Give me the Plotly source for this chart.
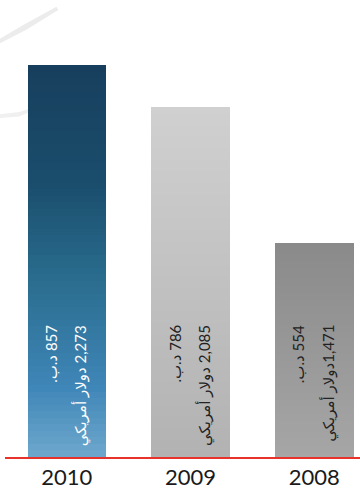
import plotly.graph_objects as go

years = ["2010", "2009", "2008"]
usd_values = [2273, 2085, 1471]
bd_values = [857, 786, 554]
bd_labels = ["857 د.ب.", "786 د.ب.", "554 د.ب."]
usd_labels = ["2,273 دولار أمريكي", "2,085 دولار أمريكي", "1,471دولار أمريكي"]

# gradient stops (top -> bottom) per bar
grad_stops = [
    [(0.0, (23, 63, 93)), (0.3, (26, 77, 108)), (0.55, (42, 109, 143)), (0.82, (63, 134, 184)), (1.0, (110, 168, 205))],
    [(0.0, (208, 208, 208)), (1.0, (178, 178, 178))],
    [(0.0, (138, 138, 138)), (1.0, (166, 166, 166))],
]

y_min, y_max = 507, 2568
N = 60


def interp(stops, t):
    for (t0, c0), (t1, c1) in zip(stops[:-1], stops[1:]):
        if t0 <= t <= t1:
            f = (t - t0) / (t1 - t0) if t1 > t0 else 0
            return "rgb(%d,%d,%d)" % tuple(round(a + (b - a) * f) for a, b in zip(c0, c1))
    return "rgb(%d,%d,%d)" % stops[-1][1]


fig = go.Figure()
for i in range(N):
    bases, lens, cols = [], [], []
    for v, stops in zip(usd_values, grad_stops):
        h = (v - y_min) / N
        b = y_min + i * h
        bases.append(b)
        lens.append(h * 1.02)
        t = 1 - (i + 0.5) / N
        cols.append(interp(stops, t))
    fig.add_trace(go.Bar(x=years, y=lens, base=bases, marker=dict(color=cols, line=dict(width=0)),
                         width=0.635, showlegend=False, hoverinfo="skip"))

font_fam = "Lato, 'DejaVu Sans', sans-serif"
for k, yr in enumerate(years):
    col = "white" if k == 0 else "#222222"
    for lbl, dx in ((bd_labels[k], -16), (usd_labels[k], 14)):
        fig.add_annotation(x=k, y=y_min, xref="x", yref="y", text="\u202b" + lbl + "\u202c",
                           textangle=-90, showarrow=False, xanchor="center", yanchor="top",
                           xshift=dx, yshift=134, font=dict(family=font_fam, size=15, color=col))

# decorative faint strokes
fig.add_shape(type="path", xref="paper", yref="paper",
              path="M -0.015 0.915 L 0.05 0.945 L 0.145 0.985 L 0.15 0.978 L 0.06 0.935 L -0.015 0.905 Z",
              fillcolor="#ececec", line=dict(width=0), layer="below")
fig.add_shape(type="path", xref="paper", yref="paper",
              path="M -0.015 0.75 L 0.04 0.755 L 0.08 0.765 L 0.08 0.758 L 0.04 0.745 L -0.015 0.742 Z",
              fillcolor="#f0f0f0", line=dict(width=0), layer="below")

fig.update_layout(
    width=360, height=495,
    margin=dict(l=5, r=0, t=0, b=38),
    paper_bgcolor="white", plot_bgcolor="white",
    barmode="overlay", bargap=0,
    xaxis=dict(type="category", range=[-0.5, 2.37], showline=True, linecolor="#e8322c", linewidth=1.5,
               showgrid=False, zeroline=False, ticks="", ticklen=0,
               tickfont=dict(family=font_fam, size=22, color="#1a1a1a")),
    yaxis=dict(range=[y_min, y_max], visible=False, showgrid=False, zeroline=False),
)

fig.write_html("out.html")
